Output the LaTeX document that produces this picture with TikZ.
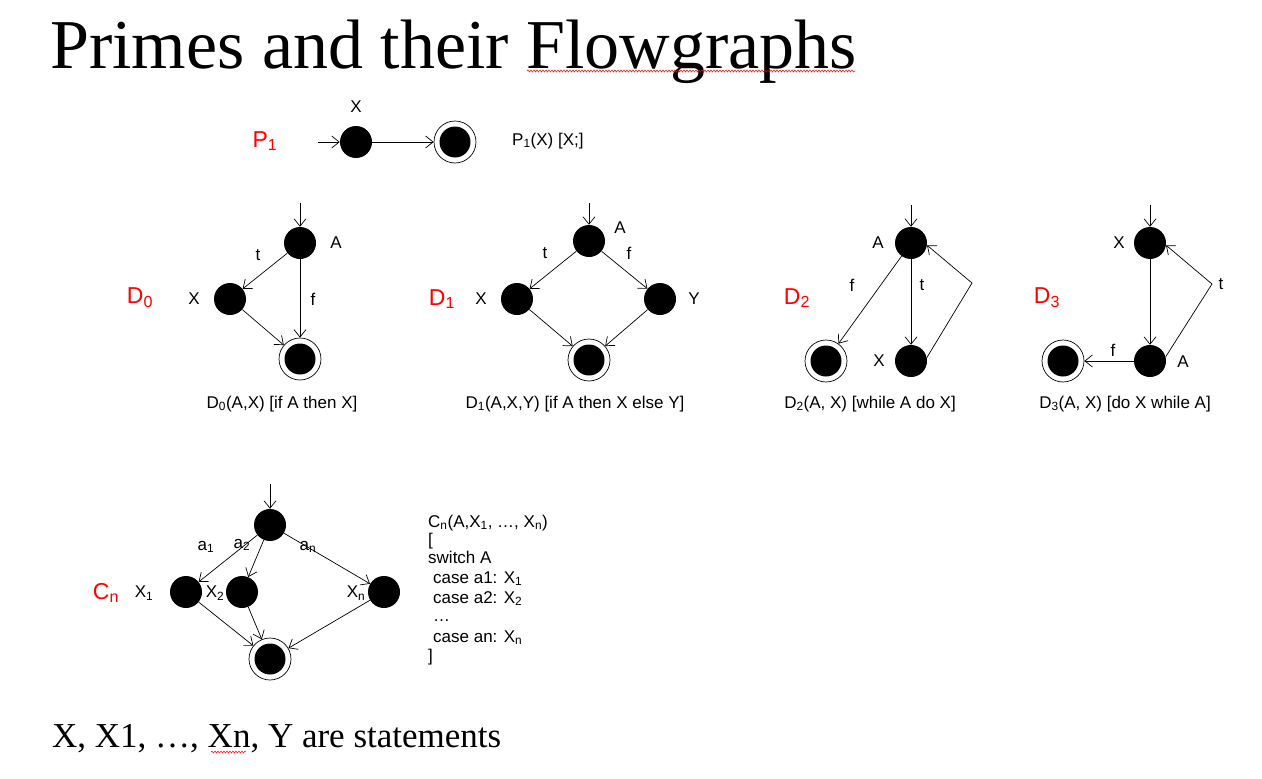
\documentclass[tikz,border=0pt]{standalone}
\usepackage{fontspec}
\setmainfont{Liberation Sans}
\newfontfamily\serifrm{Liberation Serif}
\usetikzlibrary{arrows.meta,decorations.pathmorphing}
\begin{document}
\begin{tikzpicture}[x=1pt,y=-1pt,
  blk/.style={circle,fill=black,minimum size=32pt,inner sep=0pt},
  fin/.style={circle,draw=black,line width=0.7pt,fill=white,minimum size=42pt,inner sep=0pt,
    path picture={\fill[black] (path picture bounding box.center) circle (15.5pt);}},
  arr/.style={-{Straight Barb[length=7.5pt,width=12pt]},line width=0.7pt},
  lbl/.style={font=\fontsize{17}{20}\selectfont,inner sep=0pt},
  big/.style={text=red,font=\fontsize{23}{26}\selectfont,inner sep=0pt},
  code/.style={font=\fontsize{17}{20}\selectfont,inner sep=0pt,anchor=base west},
  squig/.style={red,line width=0.5pt,decorate,decoration={snake,amplitude=1pt,segment length=3pt}}]
\fill[white] (0,0) rectangle (1262,779);
\useasboundingbox (0,0) rectangle (1262,779);

% title
\node[anchor=base west,inner sep=0pt,font=\serifrm\fontsize{70}{80}\selectfont] (title) at (50,68) {Primes and their Flowgraphs};
\draw[squig] (527,71) -- (855,71);

% P1
\node[big] (lp1) at (265,141) {P\textsubscript{1}};
\node[blk] (p1a) at (356,142) {};
\node[fin] (p1b) at (455,142) {};
\coordinate (p1in) at (318,142);
\draw[arr] (p1in) -- (p1a);
\draw[arr] (p1a) -- (p1b);
\node[lbl] (p1x) at (356,107) {X};
\node[lbl,anchor=west] (p1t) at (512,141) {P\textsubscript{1}(X) [X;]};

% D0
\node[big] (ld0) at (140,298) {D\textsubscript{0}};
\node[blk] (d0a) at (300,243) {};
\node[blk] (d0x) at (230,299) {};
\node[fin] (d0e) at (300,359) {};
\coordinate (d0in) at (300,203);
\draw[arr] (d0in) -- (d0a);
\draw[arr] (d0a) -- (d0x);
\draw[arr] (d0a) -- (d0e);
\draw[arr] (d0x) -- (d0e);
\node[lbl] (d0la) at (336,243) {A};
\node[lbl] (d0lx) at (194,299) {X};
\node[lbl] (d0lt) at (258,255) {t};
\node[lbl] (d0lf) at (313,299) {f};
\node[lbl] (d0c) at (282,404) {D\textsubscript{0}(A,X) [if A then X]};

% D1
\node[big] (ld1) at (442,299) {D\textsubscript{1}};
\node[blk] (d1a) at (589,241) {};
\node[blk] (d1x) at (517,299) {};
\node[blk] (d1y) at (660,299) {};
\node[fin] (d1e) at (589,360) {};
\coordinate (d1in) at (589,203);
\draw[arr] (d1in) -- (d1a);
\draw[arr] (d1a) -- (d1x);
\draw[arr] (d1a) -- (d1y);
\draw[arr] (d1x) -- (d1e);
\draw[arr] (d1y) -- (d1e);
\node[lbl] (d1la) at (620,228) {A};
\node[lbl] (d1lx) at (481,299) {X};
\node[lbl] (d1ly) at (694,299) {Y};
\node[lbl] (d1lt) at (545,253) {t};
\node[lbl] (d1lf) at (629,253) {f};
\node[lbl] (d1c) at (575,404) {D\textsubscript{1}(A,X,Y) [if A then X else Y]};

% D2
\node[big] (ld2) at (797,298) {D\textsubscript{2}};
\node[blk] (d2a) at (911,243) {};
\node[blk] (d2x) at (911,361) {};
\node[fin] (d2e) at (826,361) {};
\coordinate (d2in) at (911,205);
\coordinate (d2c) at (972,283);
\draw[arr] (d2in) -- (d2a);
\draw[arr] (d2a) -- (d2e);
\draw[arr] (d2a) -- (d2x);
\draw[arr] (d2x.12) -- (d2c) -- (d2a.-8);
\node[lbl] (d2la) at (878,243) {A};
\node[lbl] (d2lx) at (879,361) {X};
\node[lbl] (d2lf) at (852,285) {f};
\node[lbl] (d2lt) at (922,285) {t};
\node[lbl] (d2cap) at (870,404) {D\textsubscript{2}(A, X) [while A do X]};

% D3
\node[big] (ld3) at (1047,298) {D\textsubscript{3}};
\node[blk] (d3x) at (1150,243) {};
\node[blk] (d3a) at (1150,361) {};
\node[fin] (d3e) at (1063,361) {};
\coordinate (d3in) at (1150,205);
\coordinate (d3c) at (1212,284);
\draw[arr] (d3in) -- (d3x);
\draw[arr] (d3x) -- (d3a);
\draw[arr] (d3a) -- (d3e);
\draw[arr] (d3a.15) -- (d3c) -- (d3x.-8);
\node[lbl] (d3lx) at (1119,243) {X};
\node[lbl] (d3la) at (1183,362) {A};
\node[lbl] (d3lf) at (1113,350) {f};
\node[lbl] (d3lt) at (1221,284) {t};
\node[lbl] (d3cap) at (1125,404) {D\textsubscript{3}(A, X) [do X while A]};

% Cn
\node[big] (lcn) at (106,593) {C\textsubscript{n}};
\node[blk] (cna) at (270,525) {};
\node[blk] (cx1) at (186,592) {};
\node[blk] (cx2) at (242,592) {};
\node[blk] (cxn) at (384,592) {};
\node[fin] (cne) at (270,659) {};
\coordinate (cnin) at (270,484);
\draw[arr] (cnin) -- (cna);
\draw[arr] (cna) -- (cx1);
\draw[arr] (cna) -- (cx2);
\draw[arr] (cna) -- (cxn);
\draw[arr] (cx1) -- (cne);
\draw[arr] (cx2) -- (cne);
\draw[arr] (cxn) -- (cne);
\node[lbl] (cla1) at (206,547) {a\textsubscript{1}};
\node[lbl] (cla2) at (242,545) {a\textsubscript{2}};
\node[lbl] (clan) at (308,547) {a\textsubscript{n}};
\node[lbl] (clx1) at (144,593) {X\textsubscript{1}};
\node[lbl] (clx2) at (215,593) {X\textsubscript{2}};
\node[lbl] (clxn) at (356,593) {X\textsubscript{n}};

% Cn code
\node[code] (k1) at (428,527) {C\textsubscript{n}(A,X\textsubscript{1}, …, X\textsubscript{n})};
\node[code] (k2) at (428,545) {[};
\node[code] (k3) at (428,563) {switch A};
\node[code] (k4) at (433,583) {case a1: X\textsubscript{1}};
\node[code] (k5) at (433,603) {case a2: X\textsubscript{2}};
\node[code] (k6) at (433,621) {…};
\node[code] (k7) at (433,642) {case an: X\textsubscript{n}};
\node[code] (k8) at (428,661) {]};

% footer
\node[anchor=base west,inner sep=0pt,font=\serifrm\fontsize{35}{40}\selectfont] (foot) at (52,747) {X, X1, …, Xn, Y are statements};
\draw[squig] (211,752) -- (246,752);
\end{tikzpicture}
\end{document}
